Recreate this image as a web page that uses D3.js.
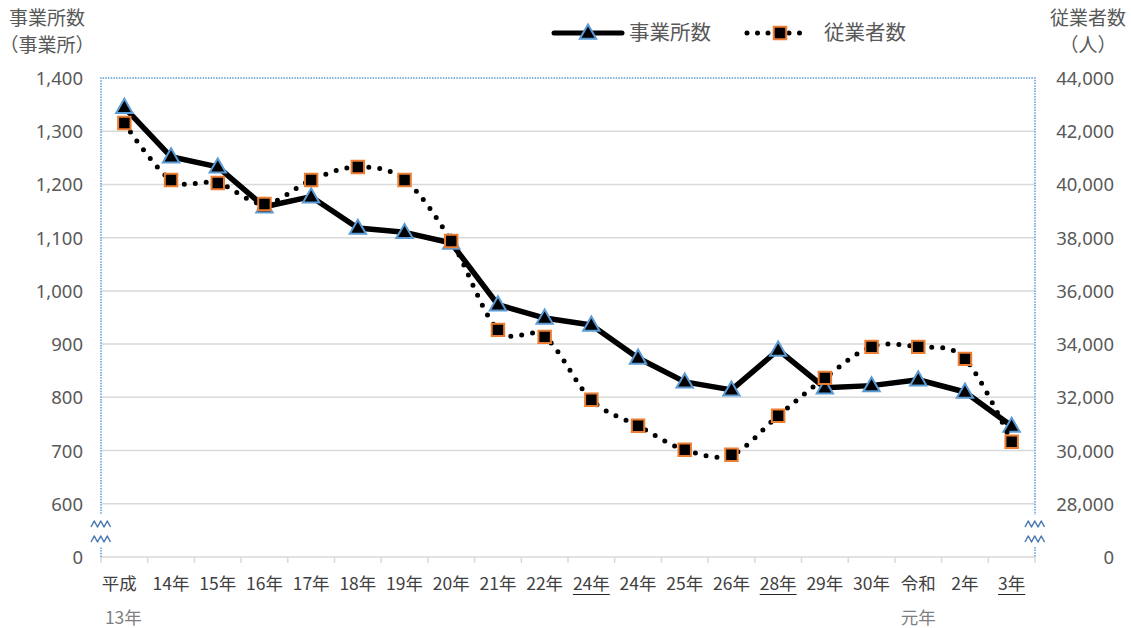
<!DOCTYPE html>
<html>
<head>
<meta charset="utf-8">
<script src="https://cdn.jsdelivr.net/npm/d3@7/dist/d3.min.js"></script>
<style>
  body { margin: 0; background: #fff; }
  svg { display: block; font-family: "Noto Sans CJK JP", "Noto Sans", sans-serif; }
</style>
</head>
<body>
<svg width="1131" height="628"></svg>
<script>
// categories (first row / second row of the label, underline flag)
const catTop = ['平成', '14年', '15年', '16年', '17年', '18年', '19年', '20年', '21年', '22年',
  '24年', '24年', '25年', '26年', '28年', '29年', '30年', '令和', '2年', '3年'];
const catBottom = ['13年', '', '', '', '', '', '', '', '', '', '', '', '', '', '', '', '', '元年', '', ''];
const catUnderline = [false, false, false, false, false, false, false, false, false, false,
  true, false, false, false, true, false, false, false, false, true];

// 事業所数 (left axis)
const establishments = [1345, 1252, 1233, 1158, 1177, 1118, 1110, 1090, 974, 949,
  936, 874, 829, 814, 889, 818, 822, 833, 810, 746];
// 従業者数 (right axis)
const employees = [42310, 40169, 40056, 39268, 40169, 40657, 40169, 37878, 34535, 34272,
  31906, 30930, 30028, 29840, 31305, 32732, 33897, 33897, 33446, 30329];

const leftTicks = [600, 700, 800, 900, 1000, 1100, 1200, 1300, 1400];
const rightTicks = [28000, 30000, 32000, 34000, 36000, 38000, 40000, 42000, 44000];

const svg = d3.select('svg');
const plot = { left: 101, right: 1035, top: 78, bottom: 557 };

const x = d3.scaleBand()
  .domain(d3.range(catTop.length))
  .range([plot.left, plot.right])
  .paddingInner(0).paddingOuter(0);
const cx = i => x(i) + x.bandwidth() / 2;

// axis is broken: the lowest step stands for 0
const yL = d3.scaleLinear().domain([500, 1400]).range([plot.bottom, plot.top]);
const yR = d3.scaleLinear().domain([26000, 44000]).range([plot.bottom, plot.top]);

const textColor = '#595959';

// gridlines
svg.append('g')
  .selectAll('line')
  .data(leftTicks.filter(d => d < 1400))
  .join('line')
    .attr('x1', plot.left).attr('x2', plot.right)
    .attr('y1', d => yL(d)).attr('y2', d => yL(d))
    .attr('stroke', '#d9d9d9').attr('stroke-width', 1.5);

// bottom axis with tick marks
const xg = svg.append('g')
  .attr('transform', `translate(0,${plot.bottom})`);
xg.append('line')
  .attr('x1', plot.left).attr('x2', plot.right)
  .attr('stroke', '#d9d9d9').attr('stroke-width', 1.5);
xg.selectAll('.btick')
  .data(d3.range(catTop.length + 1))
  .join('line')
    .attr('class', 'btick')
    .attr('x1', i => plot.left + i * x.bandwidth())
    .attr('x2', i => plot.left + i * x.bandwidth())
    .attr('y1', 0).attr('y2', 6)
    .attr('stroke', '#d9d9d9').attr('stroke-width', 1.5);

// plot area border (dotted)
svg.append('path')
  .attr('d', `M${plot.left},${plot.bottom}V${plot.top}H${plot.right}V${plot.bottom}`)
  .attr('fill', 'none')
  .attr('stroke', '#5b9bd5')
  .attr('stroke-width', 1.5)
  .attr('stroke-dasharray', '1.5,1.2');

// left axis labels
const leftAxis = d3.axisLeft(yL)
  .tickValues([500, ...leftTicks])
  .tickSize(0)
  .tickFormat(d => d === 500 ? '0' : d3.format(',')(d));
const lg = svg.append('g').attr('transform', 'translate(83,0)').call(leftAxis);
lg.select('.domain').remove();
lg.selectAll('text')
  .attr('x', 0).attr('dy', '0.35em')
  .attr('fill', textColor)
  .style('font-size', '18.5px')
  .style('font-family', '"Noto Sans", sans-serif');

// right axis labels
const rightAxis = d3.axisRight(yR)
  .tickValues([26000, ...rightTicks])
  .tickSize(0)
  .tickFormat(d => d === 26000 ? '0' : d3.format(',')(d));
const rg = svg.append('g').attr('transform', 'translate(1114,0)').call(rightAxis);
rg.select('.domain').remove();
rg.selectAll('text')
  .attr('x', 0).attr('dy', '0.35em')
  .attr('text-anchor', 'end')
  .attr('fill', textColor)
  .style('font-size', '18.5px')
  .style('font-family', '"Noto Sans", sans-serif');

// axis break marks
const zig = (x0, y0) => {
  let p = `M${x0},${y0 + 3}`;
  for (let k = 0; k < 3; k++) {
    p += `L${x0 + k * 6.5 + 3.25},${y0 - 3}L${x0 + k * 6.5 + 6.5},${y0 + 3}`;
  }
  return p;
};
[plot.left, plot.right].forEach(bx => {
  svg.append('rect')
    .attr('x', bx - 12).attr('y', 515)
    .attr('width', 24).attr('height', 32)
    .attr('fill', '#fff');
  [524, 539].forEach(by => {
    svg.append('path')
      .attr('d', zig(bx - 10, by))
      .attr('fill', 'none')
      .attr('stroke', '#4a7ab0')
      .attr('stroke-width', 1.5)
      .attr('stroke-linejoin', 'round');
  });
});

// category labels
const xl = svg.append('g')
  .style('font-size', '17.5px');
catTop.forEach((t, i) => {
  const txt = xl.append('text')
    .attr('x', cx(i) - (i === 0 ? 5 : 0))
    .attr('y', 590)
    .attr('text-anchor', 'middle')
    .attr('fill', '#404040')
    .text(t);
  if (catUnderline[i]) {
    const w = txt.node().getComputedTextLength();
    xl.append('line')
      .attr('x1', cx(i) - w / 2).attr('x2', cx(i) + w / 2)
      .attr('y1', 594.5).attr('y2', 594.5)
      .attr('stroke', '#262626').attr('stroke-width', 1);
  }
  if (catBottom[i]) {
    xl.append('text')
      .attr('x', cx(i) - (i === 0 ? 1 : 0))
      .attr('y', 624)
      .attr('text-anchor', 'middle')
      .attr('fill', '#7f7f7f')
      .text(catBottom[i]);
  }
});

// axis titles
const titles = svg.append('g')
  .attr('fill', textColor)
  .style('font-size', '19px')
  .attr('text-anchor', 'middle');
titles.append('text').attr('x', 47).attr('y', 25).text('事業所数');
titles.append('text').attr('x', 47).attr('y', 52).text('（事業所）');
titles.append('text').attr('x', 1088).attr('y', 25).text('従業者数');
titles.append('text').attr('x', 1088).attr('y', 52).text('（人）');

// markers
const triangle = d3.symbol().type(d3.symbolTriangle).size(115);
const square = d3.symbol().type(d3.symbolSquare).size(155);

// series 1: 事業所数
svg.append('path')
  .datum(establishments)
  .attr('d', d3.line().x((d, i) => cx(i)).y(d => yL(d)))
  .attr('fill', 'none')
  .attr('stroke', '#000')
  .attr('stroke-width', 5.5)
  .attr('stroke-linejoin', 'round');
svg.append('g')
  .selectAll('path')
  .data(establishments)
  .join('path')
    .attr('d', triangle)
    .attr('transform', (d, i) => `translate(${cx(i)},${yL(d) + 1})`)
    .attr('fill', '#000')
    .attr('stroke', '#5b9bd5')
    .attr('stroke-width', 2);

// series 2: 従業者数 (smoothed dotted)
svg.append('path')
  .datum(employees)
  .attr('d', d3.line().curve(d3.curveCardinal.tension(0)).x((d, i) => cx(i)).y(d => yR(d)))
  .attr('fill', 'none')
  .attr('stroke', '#000')
  .attr('stroke-width', 5)
  .attr('stroke-linecap', 'round')
  .attr('stroke-dasharray', '0,11');
svg.append('g')
  .selectAll('path')
  .data(employees)
  .join('path')
    .attr('d', square)
    .attr('transform', (d, i) => `translate(${cx(i)},${yR(d)})`)
    .attr('fill', '#000')
    .attr('stroke', '#ed7d31')
    .attr('stroke-width', 2);

// legend
const legend = svg.append('g')
  .attr('fill', textColor)
  .style('font-size', '20.5px');
legend.append('line')
  .attr('x1', 554).attr('x2', 622).attr('y1', 33).attr('y2', 33)
  .attr('stroke', '#000').attr('stroke-width', 5).attr('stroke-linecap', 'round');
legend.append('path')
  .attr('d', triangle)
  .attr('transform', 'translate(588,34)')
  .attr('fill', '#000').attr('stroke', '#5b9bd5').attr('stroke-width', 2);
legend.append('text').attr('x', 629).attr('y', 40).text('事業所数');
legend.append('line')
  .attr('x1', 747).attr('x2', 810).attr('y1', 33).attr('y2', 33)
  .attr('stroke', '#000').attr('stroke-width', 5).attr('stroke-linecap', 'round')
  .attr('stroke-dasharray', '0,10.5');
legend.append('path')
  .attr('d', square)
  .attr('transform', 'translate(780,33)')
  .attr('fill', '#000').attr('stroke', '#ed7d31').attr('stroke-width', 2);
legend.append('text').attr('x', 824).attr('y', 40).text('従業者数');
</script>
</body>
</html>
